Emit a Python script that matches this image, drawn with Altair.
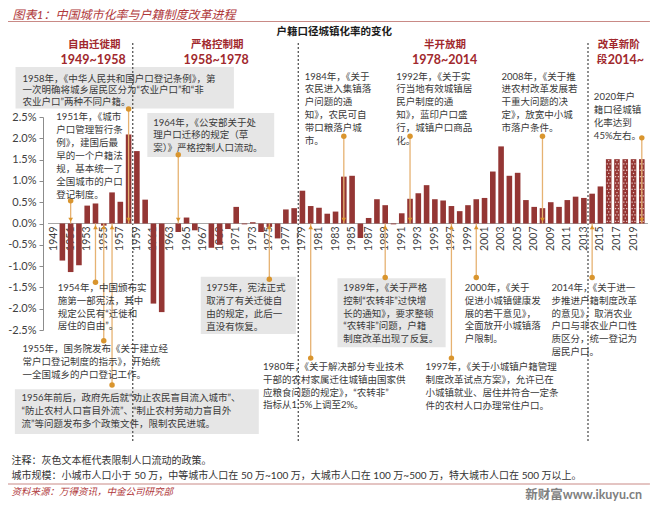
import altair as alt
import pandas as pd

# ---------------- data ----------------
years = list(range(1949, 2021))
rate_change = [0.00, -0.87, -1.14, -0.98, 0.42, 0.47, -0.05, 0.73, 0.51, 2.09,
               1.70, 0.56, -1.88, -2.08, 0.00, -0.20, 0.14, -0.16, 0.00, -0.57,
               -0.50, -0.13, 0.39, -0.02, 0.03, -0.20, -0.08, -0.35, 0.33, 0.36,
               0.77, 0.41, 0.37, 0.23, 0.28, 1.10, 1.12, -0.34, 0.13, 0.57,
               0.43, -0.02, 0.24, 0.58, 0.71, 0.90, 0.57, 0.54, 0.41, 0.29,
               0.43, 0.57, 0.60, 1.22, 1.81, 1.12, 1.19, 0.55, 0.39, 0.36,
               0.50, 0.39, 0.55, 0.63, 0.60, 0.70, 0.87, 1.51, 1.51, 1.51, 1.51, 1.51]
projected_from = 2016
label_years = list(range(1949, 2021, 2))
y_ticks = [2.5, 2.0, 1.5, 1.0, 0.5, 0.0, -0.5, -1.0, -1.5, -2.0, -2.5]

period_bounds = [1958.5, 1978.5, 2013.5]

top_event_years = [1951, 1958, 1964, 1984, 1992, 2008, 2020]
top_event_ends = [0.535, 2.69, 1.615, 2.05, 2.05, 2.05, 2.01]
bottom_event_years = [1954, 1955, 1956, 1975, 1980, 1989, 1997, 2000, 2014]
bottom_event_ends = [-1.38, -2.75, -3.79, -1.31, -3.16, -1.27, -3.16, -1.27, -1.27]

note_texts = {
    1958: ["1958年，《中华人民共和国户口登记条例》，第", "一次明确将城乡居民区分为“农业户口”和“非", "农业户口”两种不同户籍。"],
    1951: ["1951年，《城市", "户口管理暂行条", "例》，建国后最", "早的一个户籍法", "规，基本统一了", "全国城市的户口", "登记制度。"],
    1964: ["1964年，《公安部关于处", "理户口迁移的规定（草", "案）》严格控制人口流动。"],
    1984: ["1984年，《关于", "农民进入集镇落", "户问题的通", "知》，农民可自", "带口粮落户城", "市。"],
    1992: ["1992年，《关于实", "行当地有效城镇居", "民户制度的通", "知》，蓝印户口盛", "行，城镇户口商品", "化。"],
    2008: ["2008年，《关于推", "进农村改革发展若", "干重大问题的决", "定》，放宽中小城", "市落户条件。"],
    2020: ["2020年户", "籍口径城镇", "化率达到", "45%左右。"],
    1954: ["1954年，中国颁布实", "施第一部宪法，其中", "规定公民有“迁徙和", "居住的自由”。"],
    1955: ["1955年，国务院发布《关于建立经", "常户口登记制度的指示》，开始统", "一全国城乡的户口登记工作。"],
    1956: ["1956年前后，政府先后就“劝止农民盲目流入城市”、", "“防止农村人口盲目外流”、“制止农村劳动力盲目外", "流”等问题发布多个政策文件，限制农民进城。"],
    1975: ["1975年，宪法正式", "取消了有关迁徙自", "由的规定，此后一", "直没有恢复。"],
    1980: ["1980年，《关于解决部分专业技术", "干部的农村家属迁往城镇由国家供", "应粮食问题的规定》，“农转非”", "指标从1.5%上调至2%。"],
    1989: ["1989年，《关于严格", "控制“农转非”过快增", "长的通知》，要求整顿", "“农转非”问题，户籍", "制度改革出现了反复。"],
    1997: ["1997年，《关于小城镇户籍管理", "制度改革试点方案》，允许已在", "小城镇就业、居住并符合一定条", "件的农村人口办理常住户口。"],
    2000: ["2000年，《关于", "促进小城镇健康发", "展的若干意见》，", "全面放开小城镇落", "户限制。"],
    2014: ["2014年，《关于进一", "步推进户籍制度改革", "的意见》，取消农业", "户口与非农业户口性", "质区分，统一登记为", "居民户口。"],
}

# ---------------- layout (reference pixels) ----------------
W, H = 608, 213
X0, Y0 = 43, 117
XMIN, XMAX = 1948.263, 2020.507
PX_PER_YEAR = W / (XMAX - XMIN)


def X(rx):
    return XMIN + (rx - X0) / PX_PER_YEAR


def Y(ry):
    return 2.5 - (ry - Y0) * 5.0 / H


# text placement: key -> (left x, first line y, line step)
note_layout = {
    1958: (17, 78.5, 11.7), 1951: (51.5, 117, 13.0), 1964: (150, 122.7, 12.5),
    1984: (304, 76.5, 12.8), 1992: (397, 76.5, 12.8), 2008: (504, 76.5, 12.8),
    2020: (598, 96.5, 13.0),
    1954: (53, 288.3, 12.7), 1955: (17, 349.3, 12.8), 1956: (16, 398.3, 12.9),
    1975: (204, 288.3, 12.8), 1980: (261.7, 367.3, 12.6), 1989: (343.3, 288.3, 12.6),
    1997: (426.7, 367.3, 12.8), 2000: (466.7, 288.3, 12.6), 2014: (555, 288.3, 12.7),
}
gray_boxes = [(10, 67, 232, 108.5), (144, 113, 273, 157), (9.3, 389.3, 257.3, 434),
              (198.3, 276.7, 295, 334), (337.3, 278.3, 447.3, 347.3)]

FONT = "Lato, 'Noto Sans CJK SC', sans-serif"
CJK = "'Noto Sans CJK SC', sans-serif"
BAR = "#943634"
RED = "#A1282D"
LINE_C = "#E6B272"
DOT_C = "#D9952E"
TXT = "#3A3A3A"

xs = alt.Scale(domain=[XMIN, XMAX], nice=False, zero=False)
ys = alt.Scale(domain=[-2.5, 2.5], nice=False, zero=False)
YAXIS = alt.Axis(
    values=y_ticks, grid=False, title=None, domainColor="#8C8C8C", tickColor="#8C8C8C",
    tickSize=4, labelPadding=3, labelFont="Lato", labelFontSize=11, labelColor="#404040",
    labelExpr="(datum.value < 0 ? '-' : '') + format(abs(datum.value), '.1f') + '%'")


def XE(f="x"):
    return alt.X(f + ":Q", scale=xs, axis=None)


def YE(f="y"):
    return alt.Y(f + ":Q", scale=ys, axis=YAXIS)


# ---------------- layers ----------------
boxes_df = pd.DataFrame([{"x": X(a), "x2": X(c), "y": Y(b), "y2": Y(d)} for a, b, c, d in gray_boxes])
boxes = alt.Chart(boxes_df).mark_rect(color="#E6E6E6").encode(
    x=XE(), x2="x2:Q", y=YE(), y2="y2:Q")

div_df = pd.DataFrame({"x": period_bounds, "y": [Y(43)] * 3, "y2": [Y(443)] * 3})
dividers = alt.Chart(div_df).mark_rule(color="#555555", strokeDash=[2, 2], strokeWidth=1.3).encode(
    x=XE(), y=YE(), y2="y2:Q")

zero_df = pd.DataFrame({"x": [X(43)], "x2": [X(653)], "y": [0.0]})
zero_line = alt.Chart(zero_df).mark_rule(color="#A6A6A6", strokeWidth=1).encode(
    x=XE(), x2="x2:Q", y=YE())

lab_df = pd.DataFrame({"x": label_years, "y": [Y(226.5)] * len(label_years),
                       "t": [str(v) for v in label_years]})
xlabels = alt.Chart(lab_df).mark_text(angle=270, align="right", baseline="middle", font="Lato",
                                      fontSize=10.5, color="#404040").encode(
    x=XE(), y=YE(), text="t:N")

bars_df = pd.DataFrame({"year": years, "value": rate_change})
bars = alt.Chart(bars_df).mark_bar(width=5.6, color=BAR).encode(
    x=alt.X("year:Q", scale=xs, axis=None),
    y=alt.Y("value:Q", scale=ys, axis=YAXIS),
    y2=alt.datum(0))

# dotted texture on projected bars
pat_rows = []
for yr, v in zip(years, rate_change):
    if yr >= projected_from:
        k = 0
        while 0.05 + k * 0.075 < v - 0.03:
            for dx in ([-0.17, 0.17] if k % 2 == 0 else [0.0]):
                pat_rows.append({"x": yr + dx, "y": 0.05 + k * 0.075})
            k += 1
pattern = alt.Chart(pd.DataFrame(pat_rows)).mark_square(size=1.6, color="#E9C9C7", opacity=0.95).encode(
    x=XE(), y=YE())

conn_df = pd.DataFrame({"x": top_event_years + bottom_event_years,
                        "y": top_event_ends + bottom_event_ends})
conn_lines = alt.Chart(conn_df).mark_rule(color=LINE_C, strokeWidth=1.3).encode(
    x=XE(), y=YE(), y2=alt.datum(0))
conn_dots = alt.Chart(conn_df).mark_circle(size=30, color=DOT_C, opacity=1).encode(x=XE(), y=YE())

arr_top = alt.Chart(pd.DataFrame({"x": top_event_years, "y": [0.09] * len(top_event_years)})).mark_point(
    shape="triangle-down", size=22, filled=True, color=DOT_C, opacity=1).encode(x=XE(), y=YE())
arr_bot = alt.Chart(pd.DataFrame({"x": bottom_event_years, "y": [-0.09] * len(bottom_event_years)})).mark_point(
    shape="triangle-up", size=22, filled=True, color=DOT_C, opacity=1).encode(x=XE(), y=YE())

note_rows = []
for key, lines in note_texts.items():
    lx, ly, step = note_layout[key]
    for i, ln in enumerate(lines):
        note_rows.append({"x": X(lx), "y": Y(ly + i * step), "t": ln})
notes = alt.Chart(pd.DataFrame(note_rows)).mark_text(
    align="left", baseline="middle", font=FONT, fontSize=9.5, color=TXT).encode(
    x=XE(), y=YE(), text="t:N")


def text_layer(rows, **kw):
    df = pd.DataFrame([{"x": X(a), "y": Y(b), "t": t} for t, a, b in rows])
    return alt.Chart(df).mark_text(baseline="middle", **kw).encode(x=XE(), y=YE(), text="t:N")


period_cn = text_layer([("自由迁徙期", 90, 45), ("严格控制期", 215, 45), ("半开放期", 446.7, 45)],
                       align="center", font=CJK, fontSize=10.5, fontWeight="bold", color=RED)
period_cn2 = text_layer([("改革新阶", 602, 45), ("段", 601, 59.5)],
                        align="left", font=CJK, fontSize=10.5, fontWeight="bold", color=RED)
period_yr = text_layer([("1949~1958", 89, 59.5), ("1958~1978", 214, 59.5), ("1978~2014", 446.3, 59.5)],
                       align="center", font="Lato", fontSize=12.5, fontWeight="bold", color=RED)
period_yr2 = text_layer([("2014~", 612, 59.5)],
                        align="left", font="Lato", fontSize=12.5, fontWeight="bold", color=RED)

chart_title = text_layer([("户籍口径城镇化率的变化", 334, 32)],
                         align="center", font=CJK, fontSize=10.5, fontWeight="bold", color="#1A1A1A")
header = text_layer([("图表1：中国城市化率与户籍制度改革进程", 7, 14.5)],
                    align="left", font=FONT, fontSize=12, fontStyle="italic", color="#B0383A")

hl_df = pd.DataFrame({"x": [X(0), X(0)], "x2": [X(655), X(655)], "y": [Y(21.5), Y(484)]})
hlines = alt.Chart(hl_df).mark_rule(color="#C98A86", strokeWidth=1).encode(x=XE(), x2="x2:Q", y=YE())

foot = text_layer([("注释：灰色文本框代表限制人口流动的政策。", 6, 461),
                   ("城市规模：小城市人口小于 50 万，中等城市人口在 50 万~100 万，大城市人口在 100 万~500 万，特大城市人口在 500 万以上。", 6, 476)],
                  align="left", font=FONT, fontSize=10, color="#333333")
source = text_layer([("资料来源：万得资讯，中金公司研究部", 6, 491.5)],
                    align="left", font=FONT, fontSize=9.5, fontStyle="italic", color="#B0383A")
watermark = text_layer([("新财富www.ikuyu.cn", 647, 494.5)],
                       align="right", font=FONT, fontSize=12.5, fontWeight="bold", color="#7F7F7F")

chart = alt.layer(
    boxes, dividers, zero_line, xlabels, bars, pattern, conn_lines, conn_dots, arr_top, arr_bot,
    notes, period_cn, period_cn2, period_yr, period_yr2, chart_title, header, hlines,
    foot, source, watermark
).properties(
    width=W, height=H, autosize="none",
    padding={"left": X0 - 8, "top": Y0 - 8, "right": 644 - (X0 - 8) - W, "bottom": 494 - (Y0 - 8) - H},
    background="white"
).configure_view(stroke=None)

chart.save("out.html", embed_options={"renderer": "svg", "actions": False})
